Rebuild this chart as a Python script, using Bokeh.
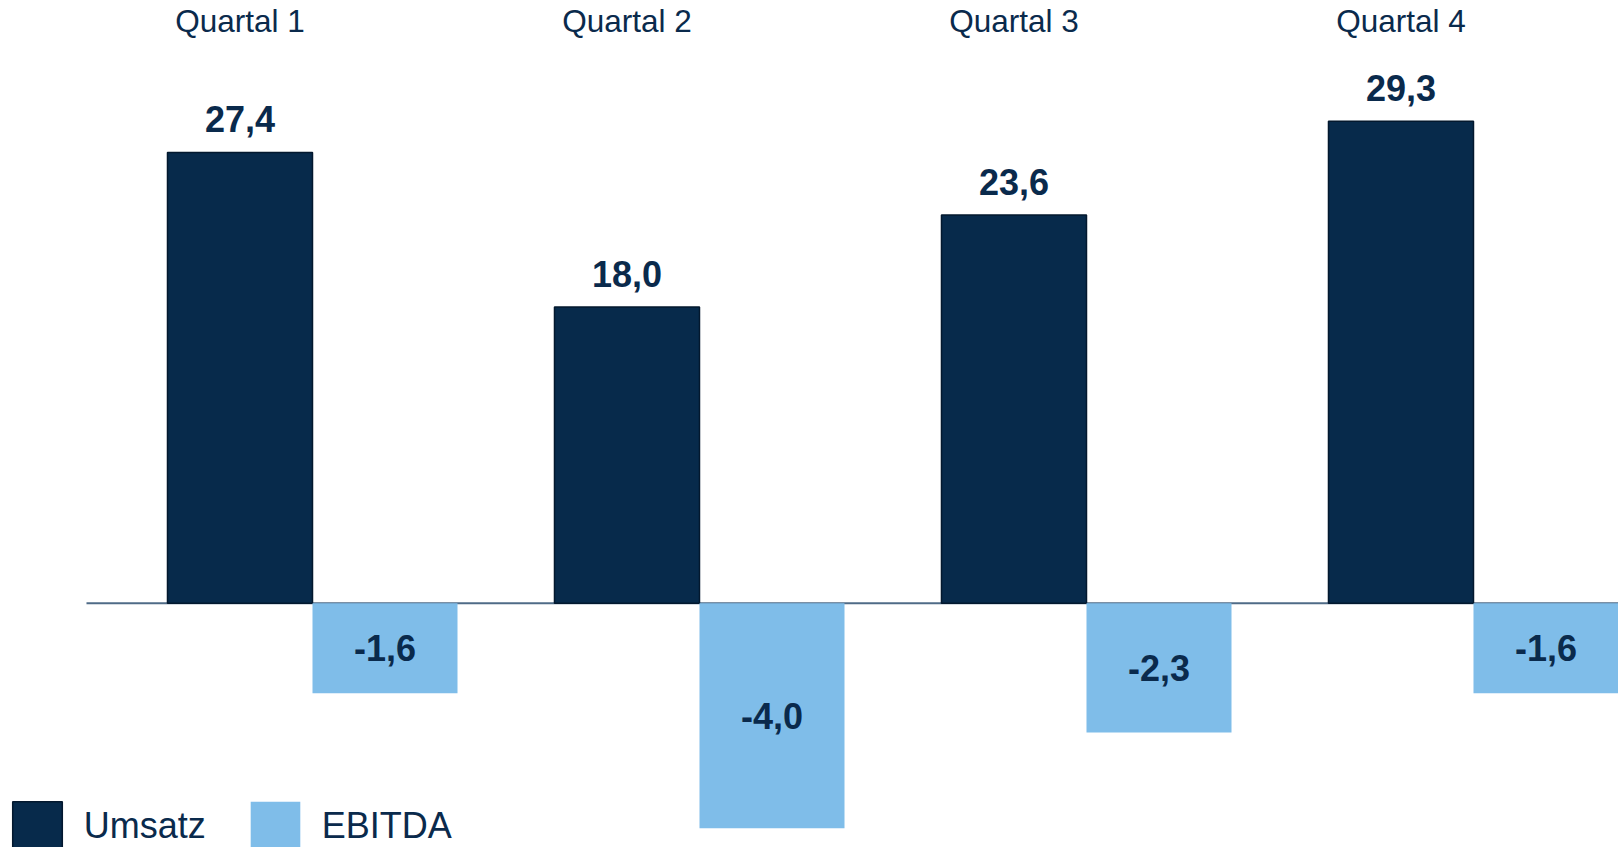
from bokeh.plotting import figure
from bokeh.models import Range1d, Legend, LegendItem, ColumnDataSource
from bokeh.core.properties import value
from bokeh.transform import dodge
from bokeh.embed import file_html
from bokeh.resources import INLINE

# ---- data ----
quarters = ["Quartal 1", "Quartal 2", "Quartal 3", "Quartal 4"]
umsatz = [27.4, 18.0, 23.6, 29.3]
ebitda = [-1.6, -4.0, -2.3, -1.6]
umsatz_labels = ["27,4", "18,0", "23,6", "29,3"]
ebitda_labels = ["-1,6", "-4,0", "-2,3", "-1,6"]
series_names = ["Umsatz", "EBITDA"]

# ---- style / layout ----
NAVY = "#072A4B"
NAVY_EDGE = "#03182E"
LIGHT = "#7FBDE9"
TEXT = "#0A2A4C"
AXIS = "#4F6B87"
FONT = "Liberation Sans"

W, H = 1618, 847
ZERO_FROM_TOP = 602.7      # px from frame top to the zero line
PX_U = 16.45               # px per unit, Umsatz scale
PX_E = 56.24               # px per unit, EBITDA scale
BAR_W = 0.3747             # width of one bar in quarter units
X_START, X_END = -0.8062, 3.3747
AXIS_X0 = -0.584           # where the category axis line begins

src = ColumnDataSource(dict(
    idx=list(range(len(quarters))),
    q=quarters,
    umsatz=umsatz,
    ebitda=ebitda,
    ebitda_mid=[v / 2 for v in ebitda],
    ul=umsatz_labels,
    el=ebitda_labels,
))

y_top = ZERO_FROM_TOP / PX_U
y_bot = -(H - ZERO_FROM_TOP) / PX_U
e_top = ZERO_FROM_TOP / PX_E
e_bot = -(H - ZERO_FROM_TOP) / PX_E

p = figure(width=W, height=H, output_backend="svg", toolbar_location=None,
           x_range=Range1d(X_START, X_END), y_range=Range1d(y_bot, y_top),
           x_axis_type=None, y_axis_type=None,
           min_border_left=0, min_border_right=0,
           min_border_top=0, min_border_bottom=0)
p.extra_y_ranges = {"ebitda": Range1d(e_bot, e_top)}
p.xgrid.visible = False
p.ygrid.visible = False
p.outline_line_color = None
p.background_fill_color = "white"
p.border_fill_color = "white"

# category axis line at zero
p.line(x=[AXIS_X0, X_END], y=[0, 0], line_color=AXIS, line_width=2)

xu = dodge("idx", -BAR_W / 2, range=p.x_range)
xe = dodge("idx", BAR_W / 2, range=p.x_range)

r_u = p.vbar(x=xu, top="umsatz", bottom=0, width=BAR_W, source=src,
             fill_color=NAVY, line_color=NAVY_EDGE, line_width=1.5)
r_e = p.vbar(x=xe, top=0, bottom="ebitda", width=BAR_W, source=src,
             fill_color=LIGHT, line_color=None, y_range_name="ebitda")

# value labels
p.text(x=xu, y="umsatz", text="ul", source=src, text_align="center",
       text_baseline="middle", y_offset=-33, text_font=value(FONT),
       text_font_style="bold", text_font_size="36px", text_color=TEXT)
p.text(x=xe, y="ebitda_mid", text="el", source=src, text_align="center",
       text_baseline="middle", y_range_name="ebitda", text_font=value(FONT),
       text_font_style="bold", text_font_size="36px", text_color=TEXT)

# quarter labels on top
p.text(x=xu, y=y_top, text="q", source=src, text_align="center",
       text_baseline="middle", y_offset=20.7, text_font=value(FONT),
       text_font_size="31.5px", text_color=TEXT)

legend = Legend(items=[LegendItem(label=series_names[0], renderers=[r_u]),
                       LegendItem(label=series_names[1], renderers=[r_e])],
                location=(5.75, -10.25), orientation="horizontal",
                glyph_width=62, glyph_height=62, label_standoff=16, spacing=38,
                padding=0, margin=0, border_line_color=None,
                background_fill_alpha=0,
                label_text_font=FONT, label_text_font_size="36px",
                label_text_color=TEXT, label_text_baseline="middle")
p.add_layout(legend)

open("out.html", "w").write(file_html(p, INLINE))
